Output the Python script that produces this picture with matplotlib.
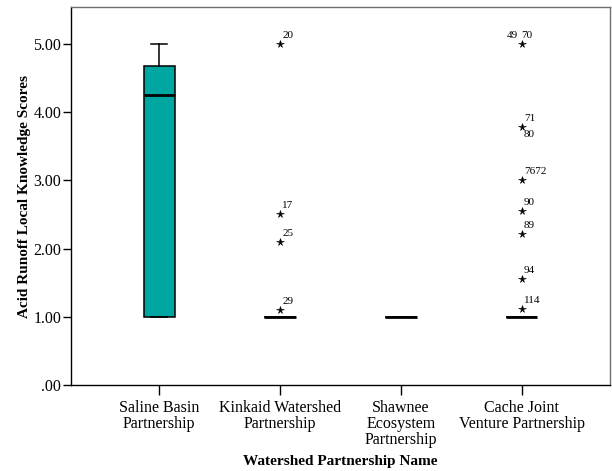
import matplotlib
matplotlib.use("Agg")
import matplotlib.pyplot as plt
from matplotlib.ticker import FuncFormatter

# ---- data ----
categories = ["Saline Basin\nPartnership", "Kinkaid Watershed\nPartnership",
              "Shawnee\nEcosystem\nPartnership", "Cache Joint\nVenture Partnership"]
q1 = [1.0, 1.0, 1.0, 1.0]
medians = [4.25, 1.0, 1.0, 1.0]
q3 = [4.67, 1.0, 1.0, 1.0]
whisker_low = [1.0, 1.0, 1.0, 1.0]
whisker_high = [5.0, 1.0, 1.0, 1.0]
outlier_values = [[], [5.0, 2.5, 2.1, 1.1], [],
                  [5.0, 3.78, 3.0, 2.55, 2.22, 1.56, 1.11]]
outlier_labels = [[], ["20", "17", "25", "29"], [],
                  ["49 70", "71", "7672", "90", "89", "94", "114"]]
extra_labels = [[], [], [], [("80", 3.78)]]  # second case drawn below a star
yticks = [0, 1, 2, 3, 4, 5]

# ---- figure ----
plt.rcParams['font.family'] = ['Liberation Serif', 'DejaVu Serif']
fig = plt.figure(figsize=(6.12, 4.71), dpi=100)
ax = fig.add_axes([71 / 612, 86 / 471, 539 / 612, 378 / 471])

stats = []
for i in range(len(categories)):
    stats.append(dict(med=medians[i], q1=q1[i], q3=q3[i],
                      whislo=whisker_low[i], whishi=whisker_high[i],
                      fliers=outlier_values[i]))
positions = list(range(1, len(categories) + 1))
ax.bxp(stats, positions=positions, widths=0.26, patch_artist=True,
       showfliers=True,
       boxprops=dict(facecolor="#00A6A2", edgecolor="black", linewidth=1.1),
       medianprops=dict(color="black", linewidth=2.0),
       whiskerprops=dict(color="black", linewidth=1.1),
       capprops=dict(color="black", linewidth=1.1),
       capwidths=0.13,
       flierprops=dict(marker="*", markersize=5.5, markerfacecolor="black",
                       markeredgecolor="black", markeredgewidth=0.4,
                       linestyle="none"))

fs_lab = 8
for i, (vals, labs) in enumerate(zip(outlier_values, outlier_labels)):
    x = positions[i]
    for v, lab in zip(vals, labs):
        if " " in lab:
            a, b = lab.split(" ")
            ax.annotate(a, (x, v), xytext=(-4, 4), textcoords="offset pixels",
                        ha="right", va="bottom", fontsize=fs_lab)
            ax.annotate(b, (x, v), xytext=(-1, 4), textcoords="offset pixels",
                        ha="left", va="bottom", fontsize=fs_lab)
        else:
            ax.annotate(lab, (x, v), xytext=(2, 4), textcoords="offset pixels",
                        ha="left", va="bottom", fontsize=fs_lab)
    for lab, v in extra_labels[i]:
        ax.annotate(lab, (x, v), xytext=(2, -3), textcoords="offset pixels",
                    ha="left", va="top", fontsize=fs_lab)

ax.set_xlim(0.27, 4.73)
ax.set_ylim(0, 5.54)
ax.set_yticks(yticks)
ax.yaxis.set_major_formatter(FuncFormatter(lambda v, p: f"{v:.2f}".lstrip("0")))
ax.set_xticks(positions)
ax.set_xticklabels(categories, fontsize=11.5, linespacing=1.0)
ax.tick_params(axis="y", labelsize=11.5, length=6, width=1, direction="out", pad=1)
ax.tick_params(axis="x", length=7, width=1, direction="out", pad=4)

for s in ["top", "right"]:
    ax.spines[s].set_color("#707070")
for s in ["left", "bottom"]:
    ax.spines[s].set_color("black")
for s in ax.spines.values():
    s.set_linewidth(1.0)

ax.set_ylabel("Acid Runoff Local Knowledge Scores", fontsize=11, fontweight="bold",
              labelpad=2)
fig.text(0.5 * (71 + 610) / 612, 1 - 462 / 471, "Watershed Partnership Name",
         fontsize=11, fontweight="bold", ha="center", va="center")

fig.savefig("out.png", dpi=100)
